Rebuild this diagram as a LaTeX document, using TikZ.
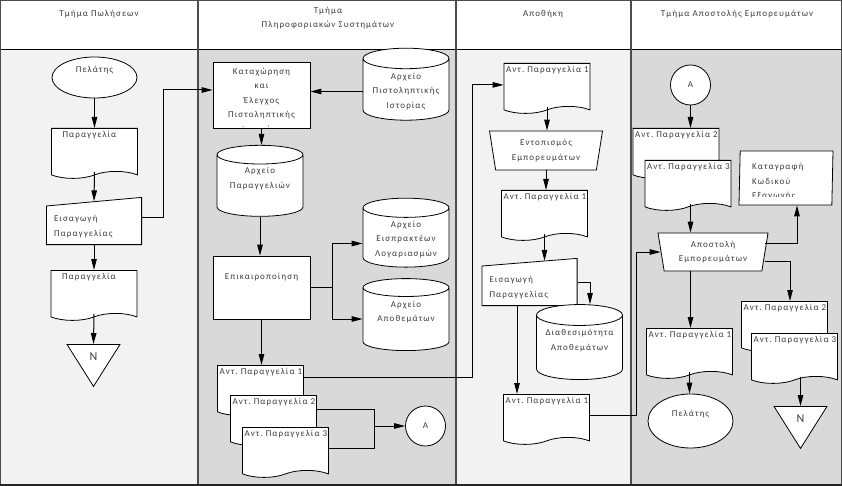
\documentclass[tikz,border=0pt]{standalone}
\usepackage{fontspec}
\setmainfont{Carlito}[LetterSpace=12]
\usetikzlibrary{shapes.geometric,shapes.symbols,arrows.meta}

\definecolor{lanelt}{HTML}{F2F2F2}
\definecolor{lanedk}{HTML}{D9D9D9}
\definecolor{txtgray}{HTML}{3C3C3C}
\definecolor{rulegray}{HTML}{4D4D4D}
\newcommand{\flowfont}{\fontsize{9pt}{14.5pt}\selectfont}

\tikzset{
  every node/.style={font=\flowfont, text=txtgray},
  shp/.style={draw=black, fill=white, line width=0.8pt},
  proc/.style={shp, rectangle, minimum width=97pt, minimum height=64pt, align=center},
  store/.style={shp, cylinder, shape border rotate=90, aspect=0.28, minimum width=86pt, minimum height=70pt, align=center},
  store2/.style={store, text height=20.5pt, text depth=19pt},
  doc/.style={shp, tape, tape bend top=none, tape bend height=7pt, inner xsep=2pt, inner ysep=2.5pt, text width=82pt, align=left, text height=7pt, text depth=31pt},
  term/.style={shp, ellipse, minimum width=85pt, text height=6pt, text depth=15pt},
  conn/.style={shp, circle, minimum size=40pt, inner sep=0pt},
  offpage/.style={shp, isosceles triangle, isosceles triangle stretches, shape border rotate=-90, minimum width=53pt, minimum height=42pt, inner sep=0pt,
    font=\fontsize{12pt}{14pt}\selectfont, text height=8pt, text depth=6pt},
  manop/.style={shp, trapezium, trapezium angle=78, trapezium stretches body, shape border rotate=180, align=center},
  manin/.style={minimum width=96pt, minimum height=48pt, text width=80pt, align=left, text height=8pt, text depth=6.5pt,
    path picture={\draw[draw=black, fill=white, line width=0.8pt]
      ([shift={(0.4pt,0.4pt)}]path picture bounding box.south west) --
      ([shift={(0.4pt,-#1)}]path picture bounding box.north west) --
      ([shift={(-0.4pt,-0.4pt)}]path picture bounding box.north east) --
      ([shift={(-0.4pt,0.4pt)}]path picture bounding box.south east) -- cycle;}},
  flow/.style={->, line width=1pt},
  >={Triangle[length=11pt,width=5.5pt]}
}

\begin{document}
\begin{tikzpicture}[x=1pt, y=-1pt]
  \useasboundingbox (0,0) rectangle (842,486);
  % lanes
  \fill[white] (0,0) rectangle (842,50);
  \fill[lanelt] (0,50) rectangle (198,486);
  \fill[lanedk] (198,50) rectangle (456,486);
  \fill[lanelt] (456,50) rectangle (631,486);
  \fill[lanedk] (631,50) rectangle (842,486);
  \draw[line width=1pt] (0,50) -- (842,50);
  \foreach \x in {198,456,631}
    \draw[rulegray, line width=1.5pt] (\x,0) -- (\x,486);
  \draw[rulegray, line width=2.5pt] (0,0) rectangle (842,486);
  \draw[black!85, line width=5pt] (0,486) -- (842,486);

  % headers
  \node (h1) at (99,14) {Τμήμα Πωλήσεων};
  \node[align=center] (h2) at (328,18) {Τμήμα\\Πληροφοριακών Συστημάτων};
  \node (h3) at (543,14) {Αποθήκη};
  \node (h4) at (737,14) {Τμήμα Αποστολής Εμπορευμάτων};

  % Τμήμα Πωλήσεων
  \node[term, minimum height=41pt] (pel1) at (94.5,77.5) {Πελάτης};
  \node[doc, anchor=north, inner xsep=11pt, text width=64pt] (par1) at (94.5,128) {Παραγγελία};
  \node[manin=9pt] (ei1) at (94,221) {Εισαγωγή\\Παραγγελίας};
  \node[doc, anchor=north, inner xsep=11pt, text width=64pt] (par2) at (94,270) {Παραγγελία};
  \node[offpage, anchor=lower side] (n1) at (93.5,344) {N};

  % Τμήμα Πληροφοριακών Συστημάτων
  \node[proc, minimum height=66pt] (kat) at (261.5,95) {};
  \begin{scope}
    \clip (kat.north west) rectangle ([yshift=1.5pt]kat.south east);
    \node[anchor=north, align=center, inner sep=0pt, yshift=-6pt] (katt) at (kat.north) {Καταχώρηση\\και\\Έλεγχος\\Πιστοληπτικής\\Ιστορίας};
  \end{scope}
  \node[store, minimum height=72pt] (ipi) at (406,91.5) {Αρχείο\\Πιστοληπτικής\\Ιστορίας};
  \node[store2, minimum height=69pt] (apar) at (260,187.5) {Αρχείο\\Παραγγελιών};
  \node[proc, minimum height=63pt, text height=6pt, text depth=22pt] (epi) at (261.5,287.5) {Επικαιροποίηση};
  \node[store, minimum height=68pt] (eisp) at (406,239.5) {Αρχείο\\Εισπρακτέων\\Λογαριασμών};
  \node[store2, minimum height=72pt] (apo) at (406,321) {Αρχείο\\Αποθεμάτων};
  \node[doc, anchor=north] (ant1) at (260.5,365) {Αντ.~Παραγγελία~1};
  \node[doc, anchor=north] (ant2) at (273.5,395) {Αντ.~Παραγγελία~2};
  \node[doc, anchor=north] (ant3) at (285.5,427) {Αντ.~Παραγγελία~3};
  \node[conn] (a1) at (425.5,426) {A};

  % Αποθήκη
  \node[doc, anchor=north] (rec1) at (547,63) {Αντ.~Παραγγελία~1};
  \node[manop, minimum width=113pt, minimum height=39pt] (ent) at (546,150.5) {Εντοπισμός\\Εμπορευμάτων};
  \node[doc, anchor=north] (rec2) at (544.5,190) {Αντ.~Παραγγελία~1};
  \node[manin=8pt] (ei2) at (529.5,282) {Εισαγωγή\\Παραγγελίας};
  \node[store2, minimum height=75pt] (dia) at (579.5,349.5) {Διαθεσιμότητα\\Αποθεμάτων};
  \node[doc, anchor=north] (rec3) at (546.5,394) {Αντ.~Παραγγελία~1};

  % Τμήμα Αποστολής Εμπορευμάτων
  \node[conn] (a2) at (690.5,85) {A};
  \node[doc, anchor=north] (lst2) at (676,128) {Αντ.~Παραγγελία~2};
  \node[doc, anchor=north] (lst3) at (688,160) {Αντ.~Παραγγελία~3};
  \node[manop, minimum width=110pt, minimum height=38pt] (aps) at (713,252) {Αποστολή\\Εμπορευμάτων};
  \node[shp, trapezium, trapezium left angle=80, trapezium right angle=100, trapezium stretches body, minimum width=94pt, minimum height=54pt] (kod) at (786,178) {};
  \begin{scope}
    \clip (740,150) rectangle (834,197);
    \node[anchor=north west, align=left, inner sep=0pt] (kodt) at (752,163) {Καταγραφή\\Κωδικού\\Εξαγωγής};
  \end{scope}
  \node[doc, anchor=north] (lst2b) at (784.5,301) {Αντ.~Παραγγελία~2};
  \node[doc, anchor=north] (lst3b) at (794.5,333) {Αντ.~Παραγγελία~3};
  \node[doc, anchor=north] (out1) at (689.5,328) {Αντ.~Παραγγελία~1};
  \node[term, minimum height=54pt] (pel2) at (690.5,421) {Πελάτης};
  \node[offpage, anchor=lower side] (n2) at (800.5,406) {N};

  % connectors
  \draw[flow] (pel1.south) -- (par1.north);
  \draw[flow] (par1.south) -- ([yshift=-4.5pt]ei1.north);
  \draw[flow] (ei1.south) -- (par2.north);
  \draw[flow] (par2.south) -- (n1.lower side);
  \draw[flow] ([yshift=3pt]ei1.east) -- ++(21,0) |- ([yshift=5pt]kat.west);

  \draw[flow] (ipi.west) -- (ipi.west -| kat.east);
  \draw[flow] (kat.south) -- (kat.south |- apar.north);
  \draw[flow] (apar.south) -- (apar.south |- epi.north);
  \draw[line width=1pt] (epi.east) -- ++(22,0) coordinate (sp);
  \draw[flow] (sp) |- ([yshift=-4pt]eisp.west);
  \draw[flow] (sp) |- ([yshift=2pt]apo.west);
  \draw[flow] (epi.south) -- (epi.south |- ant1.north);
  \draw[flow] (ant1.north east) ++(0,12) -- ++(169,0) |- (rec1.west);
  \coordinate (jn) at (374,426);
  \draw[line width=1pt] (ant2.north east) ++(0,14) -| (jn);
  \draw[line width=1pt] (ant3.north east) ++(0,21) -| (jn);
  \draw[flow] (jn) -- (a1);

  \draw[flow] (rec1.south) -- (rec1.south |- ent.north);
  \draw[flow] (ent.south) -- (ent.south |- rec2.north);
  \draw[flow] (rec2.south) -- ([yshift=-3pt]rec2.south |- ei2.north);
  \draw[flow] (ei2.east) -| ([xshift=10.5pt]dia.north);
  \draw[flow] ([xshift=-12.5pt]ei2.south) -- ([xshift=-12.5pt]ei2.south |- rec3.north);
  \draw[flow] (rec3.east) -- ++(47,0) |- (aps.west);

  \draw[flow] (a2) -- (a2 |- lst2.north);
  \draw[flow] (a2 |- lst3.south) -- (a2 |- aps.north);
  \draw[flow] ([yshift=9pt]aps.east) -| ([xshift=11pt]kod.south);
  \draw[flow] ([yshift=-9pt]aps.east) -| ([xshift=5.5pt]lst2b.north);
  \draw[flow] (a2 |- aps.south) -- (a2 |- out1.north);
  \draw[flow] (out1.south) -- (out1.south |- pel2.north);
  \draw[flow] (n2 |- lst3b.south) -- (n2.lower side);
\end{tikzpicture}
\end{document}
